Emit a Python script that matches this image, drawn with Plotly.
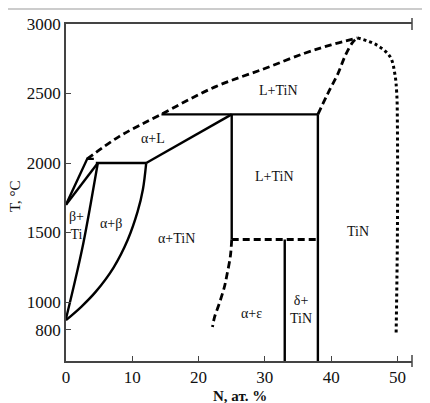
import plotly.graph_objects as go

# ---- data (N, at.% ; T, °C) ----
T_MIN, T_MAX = 576, 3000
N_MAX = 52.2

beta_liq_x = [0, 3.2, 4.2]
beta_liq_t = [1700, 2030, 2030]
beta_sol_x = [0, 4.8]
beta_sol_t = [1700, 2000]
peri2000_x = [4.5, 12.1]
peri2000_t = [2000, 2000]
beta_transus_x = [0, 1.4, 2.6, 3.7, 4.8]
beta_transus_t = [880, 1160, 1420, 1700, 2000]
alpha_solvus_x = [0, 2.3, 4.5, 7.2, 9.3, 10.8, 11.6, 12.1]
alpha_solvus_t = [870, 966, 1075, 1250, 1446, 1650, 1810, 2000]
alphaL_x = [12.1, 25]
alphaL_t = [2000, 2350]
peri2350_x = [14.4, 38]
peri2350_t = [2350, 2350]
v25_x = [25, 25]
v25_t = [2350, 1450]
v33_x = [33, 33]
v33_t = [1450, T_MIN]
v38_x = [38, 38]
v38_t = [2350, T_MIN]

h1450_x = [25, 38]
h1450_t = [1450, 1450]
liquidus_x = [3.2, 8, 14.1, 22.4, 30, 36, 40, 44]
liquidus_t = [2030, 2190, 2344, 2546, 2680, 2790, 2850, 2900]
tin_sol_x = [38, 39.5, 41, 42.2, 43.3, 44]
tin_sol_t = [2350, 2500, 2640, 2780, 2872, 2900]
alpha_eps_x = [25, 24.8, 24.3, 23.9, 23.2, 22.4, 22.1]
alpha_eps_t = [1450, 1330, 1200, 1110, 1000, 890, 820]

tin_right_x = [44, 46.9, 48.9, 49.6, 49.9, 50, 50, 49.8]
tin_right_t = [2900, 2848, 2764, 2644, 2500, 2260, 1500, 760]

labels = ["α+L", "L+TiN", "L+TiN", "β+<br>Ti", "α+β", "α+TiN", "TiN", "α+ε", "δ+<br>TiN"]
label_x = [13.1, 32.0, 31.5, 1.6, 6.8, 16.6, 44.1, 28.0, 35.5]
label_t = [2179, 2524, 1901, 1548, 1566, 1458, 1505, 919, 948]

x_ticks = [0, 10, 20, 30, 40, 50]
y_ticks = [800, 1000, 1500, 2000, 2500, 3000]

FONT = "Liberation Serif"
fig = go.Figure()

straight = [(beta_liq_x, beta_liq_t), (beta_sol_x, beta_sol_t), (peri2000_x, peri2000_t),
            (alphaL_x, alphaL_t), (peri2350_x, peri2350_t), (v25_x, v25_t),
            (v33_x, v33_t), (v38_x, v38_t)]
for xs, ts in straight:
    fig.add_trace(go.Scatter(x=xs, y=ts, mode="lines",
                             line=dict(color="black", width=2.4),
                             hoverinfo="skip", showlegend=False))

curved = [(beta_transus_x, beta_transus_t), (alpha_solvus_x, alpha_solvus_t)]
for xs, ts in curved:
    fig.add_trace(go.Scatter(x=xs, y=ts, mode="lines",
                             line=dict(color="black", width=2.4, shape="spline", smoothing=1.0),
                             hoverinfo="skip", showlegend=False))

dashed = [(h1450_x, h1450_t), (liquidus_x, liquidus_t), (tin_sol_x, tin_sol_t),
          (alpha_eps_x, alpha_eps_t)]
for xs, ts in dashed:
    fig.add_trace(go.Scatter(x=xs, y=ts, mode="lines",
                             line=dict(color="black", width=2.8, dash="7px,4px", shape="spline"),
                             hoverinfo="skip", showlegend=False))

fig.add_trace(go.Scatter(x=tin_right_x, y=tin_right_t, mode="lines",
                         line=dict(color="black", width=3, dash="3px,3px", shape="spline"),
                         hoverinfo="skip", showlegend=False))

for txt, lx, lt in zip(labels, label_x, label_t):
    fig.add_annotation(x=lx, y=lt, text=txt, showarrow=False,
                       font=dict(family=FONT, size=14, color="#111"))

# axis titles
fig.add_annotation(xref="paper", yref="paper", x=-0.147, y=0.49, text="T, °C",
                   textangle=-90, showarrow=False, xanchor="center", yanchor="middle",
                   font=dict(family=FONT, size=15, color="#111"))
fig.add_annotation(xref="paper", yref="paper", x=0.503, y=-0.104, text="<b>N, ат. %</b>",
                   showarrow=False, xanchor="center", yanchor="middle",
                   font=dict(family=FONT, size=15, color="#111"))

# axis break marks and border lines
AX = "#444"
for yp in (0.0, 1.0):
    fig.add_shape(type="line", xref="paper", yref="paper", x0=1.0, x1=1.0,
                  y0=yp - 0.018, y1=yp + 0.018, line=dict(color=AX, width=1.5))
    fig.add_shape(type="line", xref="paper", yref="paper", x0=1.032, x1=1.032,
                  y0=yp - 0.018, y1=yp + 0.018, line=dict(color=AX, width=1.5))
    fig.add_shape(type="line", xref="paper", yref="paper", x0=1.032, x1=1.06,
                  y0=yp, y1=yp, line=dict(color=AX, width=1.5))
fig.add_shape(type="line", xref="paper", yref="paper", x0=-0.2, x1=1.06,
              y0=1.0445, y1=1.0445, line=dict(color="#999", width=1))

fig.update_layout(
    width=422, height=395,
    margin=dict(l=58, r=18, t=16, b=42),
    paper_bgcolor="white", plot_bgcolor="white",
    font=dict(family=FONT, size=17, color="#111"),
)
fig.update_xaxes(range=[0, N_MAX], tickvals=x_ticks, ticks="inside", ticklen=5,
                 tickcolor=AX, showline=True, linecolor=AX, linewidth=1.5, mirror=True,
                 showgrid=False, zeroline=False, automargin=False,
                 tickfont=dict(family=FONT, size=17, color="#111"))
fig.update_yaxes(range=[T_MIN, T_MAX], tickvals=y_ticks, ticks="inside", ticklen=5,
                 tickcolor=AX, showline=True, linecolor=AX, linewidth=1.5,
                 showgrid=False, zeroline=False, automargin=False,
                 tickfont=dict(family=FONT, size=17, color="#111"))

fig.write_html("out.html")
